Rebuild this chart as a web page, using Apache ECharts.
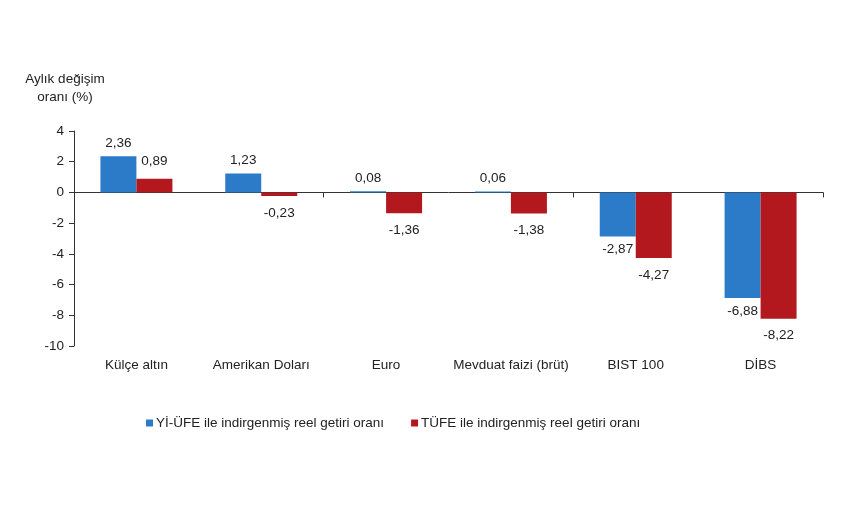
<!DOCTYPE html>
<html><head><meta charset="utf-8">
<script src="https://cdn.jsdelivr.net/npm/echarts@6/dist/echarts.min.js"></script>
<style>html,body{margin:0;padding:0;background:#fff}#c{width:860px;height:505px}</style>
</head><body><div id="c"></div>
<script>
const categories = ['Külçe altın', 'Amerikan Doları', 'Euro', 'Mevduat faizi (brüt)', 'BIST 100', 'DİBS'];
const yiUfe = [2.36, 1.23, 0.08, 0.06, -2.87, -6.88];
const tufe = [0.89, -0.23, -1.36, -1.38, -4.27, -8.22];
const seriesNames = ['Yİ-ÜFE ile indirgenmiş reel getiri oranı', 'TÜFE ile indirgenmiş reel getiri oranı'];
const yTicks = [-10, -8, -6, -4, -2, 0, 2, 4];

const font = 'Liberation Sans, Arial, sans-serif';
const fs = 13.5;
const fmt = v => v.toFixed(2).replace('.', ',');
const mkLabel = (dist) => ({
  show: true,
  position: 'top',
  distance: dist,
  color: '#222',
  fontFamily: font,
  fontSize: fs,
  formatter: p => fmt(p.value)
});
function mkData(arr) {
  return arr.map(v => ({ value: v, label: { position: v >= 0 ? 'top' : 'bottom' } }));
}
const chart = echarts.init(document.getElementById('c'), null, { renderer: 'canvas' });
chart.setOption({
  animation: false,
  backgroundColor: '#fff',
  textStyle: { fontFamily: font },
  grid: { left: 74, right: 37, top: 131, bottom: 159, containLabel: false },
  graphic: [{
    type: 'text', x: 65, y: 70,
    style: { text: 'Aylık değişim\noranı (%)', fill: '#222', font: fs + 'px ' + font, lineHeight: 18, align: 'center' }
  }],
  legend: {
    top: 411, left: 141,
    itemWidth: 7, itemHeight: 7, itemGap: 27,
    icon: 'rect',
    textStyle: { color: '#222', fontSize: fs, fontFamily: font, padding: [0, 0, 0, -2] },
    data: seriesNames
  },
  xAxis: [{
    type: 'category', data: categories, position: 'bottom',
    axisLine: { show: true, onZero: true, lineStyle: { color: '#333', width: 1 } },
    axisTick: { show: true, inside: false, length: 5, lineStyle: { color: '#333' } },
    axisLabel: { show: false }
  }, {
    type: 'category', data: categories, position: 'bottom',
    axisLine: { show: false, onZero: false },
    axisTick: { show: false },
    axisLabel: { show: true, interval: 0, color: '#222', fontSize: fs, fontFamily: font, margin: 12 }
  }],
  yAxis: {
    type: 'value', min: -10, max: 4, interval: 2,
    axisLine: { show: true, lineStyle: { color: '#333' } },
    axisTick: { show: true, length: 5, lineStyle: { color: '#333' } },
    splitLine: { show: false },
    axisLabel: { color: '#222', fontSize: fs, fontFamily: font, margin: 10,
      formatter: v => yTicks.includes(v) ? String(v) : '' }
  },
  series: [{
    name: seriesNames[0], type: 'bar', xAxisIndex: 0,
    data: mkData(yiUfe), barWidth: 36, barGap: '0%',
    itemStyle: { color: '#2b7bc9' }, label: mkLabel(6)
  }, {
    name: seriesNames[1], type: 'bar', xAxisIndex: 0,
    data: mkData(tufe), barWidth: 36, barGap: '0%',
    itemStyle: { color: '#b3181e' }, label: mkLabel(10)
  }]
});
</script></body></html>
